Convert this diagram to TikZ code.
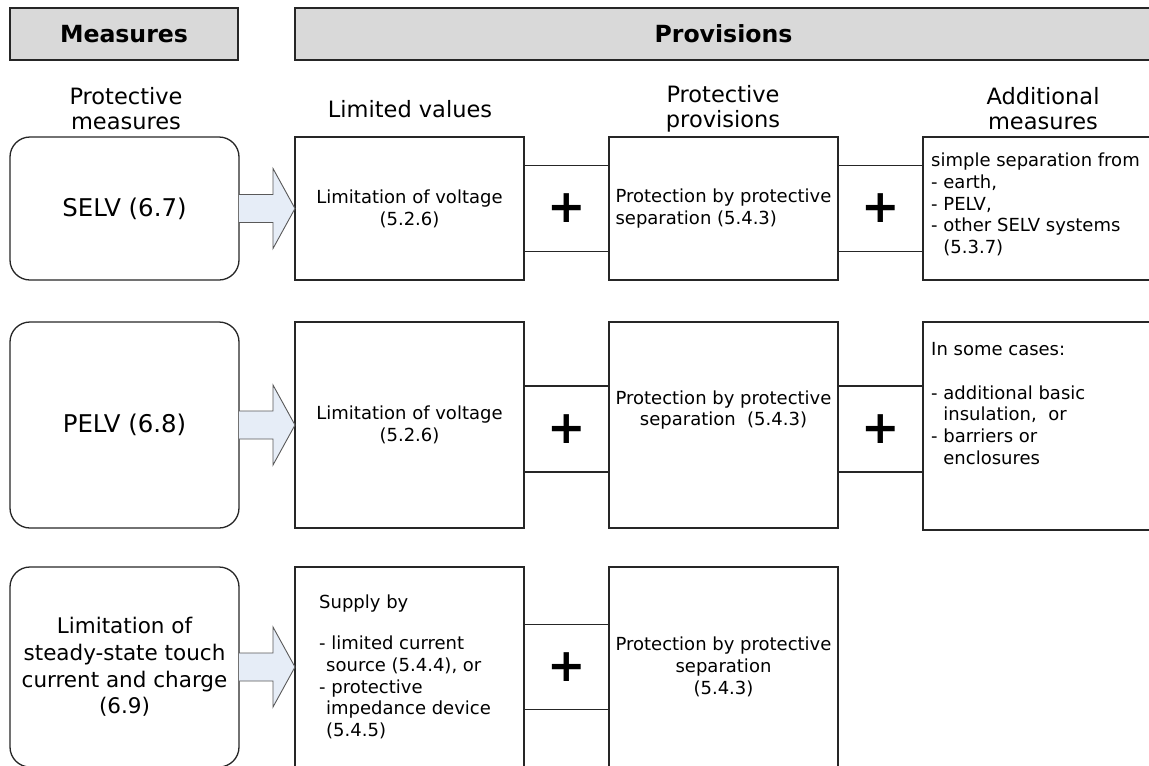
\documentclass[tikz,border=0pt]{standalone}
\usepackage{fontspec}
\setmainfont{DejaVu Sans}
\usepackage{tikz}
\usetikzlibrary{positioning}
\definecolor{hdrgray}{RGB}{217,217,217}
\definecolor{arrblue}{RGB}{230,237,247}

\begin{document}
\begin{tikzpicture}[x=1pt, y=-1pt,
  hdr/.style={draw=black!85, line width=1.3pt, fill=hdrgray, anchor=north west, minimum height=52pt, inner sep=0pt, outer sep=0pt, font=\fontsize{23.6}{28}\selectfont\bfseries},
  colhead/.style={font=\fontsize{22.5}{25}\selectfont, align=center},
  meas/.style={draw=black!85, line width=1.3pt, rounded corners=20pt, anchor=north west, minimum width=229pt, inner sep=0pt, outer sep=0pt, align=center, font=\fontsize{24.4}{28}\selectfont},
  box/.style={draw=black!85, line width=1.3pt, anchor=north west, minimum width=229pt, inner sep=0pt, outer sep=0pt, align=center, font=\fontsize{18}{21.7}\selectfont},
  body/.style={inner sep=0pt, font=\fontsize{18}{21.7}\selectfont},
  plusbox/.style={draw=black!85, line width=1.3pt, anchor=west, minimum width=85pt, inner sep=0pt, outer sep=0pt, font=\fontsize{46}{46}\selectfont\bfseries},
  txt/.style={anchor=north west, inner sep=0pt, align=left, font=\fontsize{18}{21.7}\selectfont},
  bigarr/.style={draw=black!65, line width=0.9pt, fill=arrblue}]
  \useasboundingbox (0,0) rectangle (1149,766);
  \clip (0,0) rectangle (1149,766);
  % ---------------- headers
  \node[hdr, minimum width=228pt] (hmeas) at (10,8) {Measures};
  \node[hdr, minimum width=857pt] (hprov) at (295,8) {Provisions};
  \node[colhead] (cmeas) at (126,109) {Protective\\measures};
  \node[colhead] (clim) at (410,109) {Limited values};
  \node[colhead] (cprov) at (723,109) {Protective\\provisions};
  \node[colhead] (cadd) at (1043,109) {Additional\\measures};
  % ---------------- SELV
  \node[meas, minimum height=143pt] (meas1) at (10,137) {SELV (6.7)};
  \node[box, minimum height=143pt] (lim1) at (295,137) {Limitation of voltage\\(5.2.6)};
  \node[box, minimum height=143pt, align=left] (prov1) at (609,137) {Protection by protective\\separation (5.4.3)};
  \node[box, minimum width=240pt, minimum height=143pt] (add1) at (923,137) {};
  \node[txt] (add1txt) at (931,153) {simple separation from\\- earth,\\- PELV,\\- other SELV systems\\\phantom{- }(5.3.7)};
  \node[plusbox, minimum height=86pt] (plus1a) at (lim1.east) {+};
  \node[plusbox, minimum height=86pt] (plus1b) at (prov1.east) {+};
  \draw[bigarr] (meas1.east) ++(0,-14) -- ++(34,0) -- ++(0,-26) -- (lim1.west) -- ++(-22,40) -- ++(0,-26) -- ++(-34,0);
  % ---------------- PELV
  \node[meas, minimum height=206pt] (meas2) at (10,322) {PELV (6.8)};
  \node[box, minimum height=206pt] (lim2) at (295,322) {Limitation of voltage\\(5.2.6)};
  \node[box, minimum height=206pt] (prov2) at (609,322) {};
  \node[body, align=center] (prov2txt) at ([yshift=15pt]prov2.center) {Protection by protective\\separation~~(5.4.3)};
  \node[box, minimum width=240pt, minimum height=208pt] (add2) at (923,322) {};
  \node[txt] (add2txt) at (931,342.5) {In some cases:\\[21.7pt]- additional basic\\\phantom{- }insulation,~~or\\- barriers or\\\phantom{- }enclosures};
  \node[plusbox, minimum height=86pt] (plus2a) at ([yshift=-4pt]lim2.east) {+};
  \node[plusbox, minimum height=86pt] (plus2b) at ([yshift=-4pt]prov2.east) {+};
  \draw[bigarr] (meas2.east) ++(0,-14) -- ++(34,0) -- ++(0,-26) -- (lim2.west) -- ++(-22,40) -- ++(0,-26) -- ++(-34,0);
  % ---------------- touch current
  \node[meas, minimum height=200pt, font=\fontsize{21.5}{26.7}\selectfont] (meas3) at (10,567) {Limitation of\\steady-state touch\\current and charge\\(6.9)};
  \node[box, minimum height=200pt] (lim3) at (295,567) {};
  \node[txt] (lim3txt) at (319,594.3) {Supply by\\[20pt]- limited current\\\hspace{7pt}source (5.4.4), or\\- protective\\\hspace{7pt}impedance device\\\hspace{7pt}(5.4.5)};
  \node[box, minimum height=200pt] (prov3) at (609,567) {Protection by protective\\separation\\(5.4.3)};
  \node[plusbox, minimum height=85pt] (plus3a) at (lim3.east) {+};
  \draw[bigarr] (meas3.east) ++(0,-14) -- ++(34,0) -- ++(0,-26) -- (lim3.west) -- ++(-22,40) -- ++(0,-26) -- ++(-34,0);
\end{tikzpicture}
\end{document}
